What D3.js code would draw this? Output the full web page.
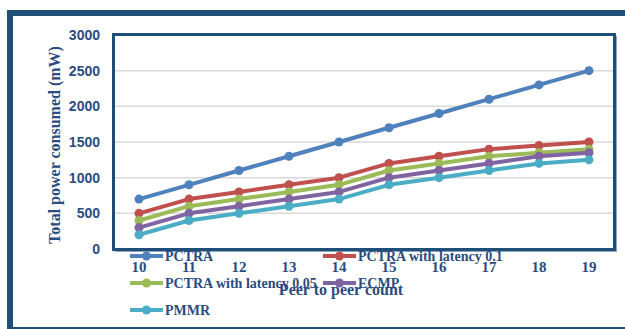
<!DOCTYPE html>
<html>
<head>
<meta charset="utf-8">
<script src="https://cdn.jsdelivr.net/npm/d3@7/dist/d3.min.js"></script>
<style>
  html, body { margin: 0; padding: 0; background: #ffffff; }
  svg { display: block; }
</style>
</head>
<body>
<svg id="chart" width="625" height="329"></svg>
<script>
// Peer counts on the category axis
const categories = ["10", "11", "12", "13", "14", "15", "16", "17", "18", "19"];
// Power consumed (mW) per protocol
const pctra      = [700, 900, 1100, 1300, 1500, 1700, 1900, 2100, 2300, 2500];
const pctra01    = [500, 700, 800, 900, 1000, 1200, 1300, 1400, 1450, 1500];
const pctra005   = [400, 600, 700, 800, 900, 1100, 1200, 1300, 1350, 1400];
const ecmp       = [300, 500, 600, 700, 800, 1000, 1100, 1200, 1300, 1350];
const pmmr       = [200, 400, 500, 600, 700, 900, 1000, 1100, 1200, 1250];
const seriesNames = ["PCTRA", "PCTRA with latency 0.1", "PCTRA with latency 0.05", "ECMP", "PMMR"];
const yTicks = [0, 500, 1000, 1500, 2000, 2500, 3000];

const colors = ["#4f81bd", "#c0504d", "#9bbb59", "#8064a2", "#4bacc6"];
const series = [pctra, pctra01, pctra005, ecmp, pmmr].map((values, i) => ({
  name: seriesNames[i], values, color: colors[i]
}));

const textColor = "#2b4c7e";
const frameColor = "#1f4e79";
const svg = d3.select("#chart");

// outer frame
svg.append("rect")
  .attr("x", 10).attr("y", 13).attr("width", 640).attr("height", 317)
  .attr("fill", "none").attr("stroke", frameColor).attr("stroke-width", 6);

const plot = { left: 114, right: 614, top: 35, bottom: 249 };

const x = d3.scaleBand().domain(categories).range([plot.left, plot.right]);
const y = d3.scaleLinear().domain([0, 3000]).range([plot.bottom, plot.top]);

// gridlines
svg.append("g")
  .selectAll("line")
  .data(yTicks.filter(t => t > 0 && t < 3000))
  .join("line")
  .attr("x1", plot.left).attr("x2", plot.right)
  .attr("y1", d => y(d)).attr("y2", d => y(d))
  .attr("stroke", "#d9d9d9").attr("stroke-width", 1.5);

// plot area border with a soft shadow on the right and bottom
svg.append("path")
  .attr("d", `M${plot.right + 2},${plot.top + 1} L${plot.right + 2},${plot.bottom + 2} L${plot.left + 1},${plot.bottom + 2}`)
  .attr("fill", "none").attr("stroke", "#8ea6c6").attr("stroke-width", 2);
svg.append("rect")
  .attr("x", plot.left - 0.5).attr("y", plot.top - 0.5)
  .attr("width", plot.right - plot.left + 1).attr("height", plot.bottom - plot.top + 1)
  .attr("fill", "none").attr("stroke", frameColor).attr("stroke-width", 3);

// y axis tick labels
const yAxis = d3.axisLeft(y).tickValues(yTicks).tickFormat(d3.format("d")).tickSize(0).tickPadding(14);
const gy = svg.append("g").attr("transform", `translate(${plot.left},0)`).call(yAxis);
gy.select(".domain").remove();
gy.selectAll("text")
  .attr("fill", textColor)
  .style("font-family", "'Liberation Sans', Arial, sans-serif")
  .style("font-weight", "bold").style("font-size", "14px");

// x axis tick labels
const xAxis = d3.axisBottom(x).tickSize(0).tickPadding(12);
const gx = svg.append("g").attr("transform", `translate(0,${plot.bottom})`).call(xAxis);
gx.select(".domain").remove();
gx.selectAll("text")
  .attr("fill", textColor)
  .style("font-family", "'Liberation Serif', 'Times New Roman', serif")
  .style("font-weight", "bold").style("font-size", "15px");

// axis titles
svg.append("text")
  .attr("transform", `translate(60,${(plot.top + plot.bottom) / 2 + 3}) rotate(-90)`)
  .attr("text-anchor", "middle")
  .attr("fill", textColor)
  .style("font-family", "'Liberation Serif', 'Times New Roman', serif")
  .style("font-weight", "bold").style("font-size", "16px")
  .text("Total power consumed (mW)");

svg.append("text")
  .attr("x", 341).attr("y", 295)
  .attr("text-anchor", "middle")
  .attr("fill", textColor)
  .style("font-family", "'Liberation Serif', 'Times New Roman', serif")
  .style("font-weight", "bold").style("font-size", "16px")
  .text("Peer to peer count");

// series lines and markers
const line = d3.line()
  .x((d, i) => x(categories[i]) + x.bandwidth() / 2)
  .y(d => y(d));

const gs = svg.append("g").selectAll("g").data(series).join("g");
gs.append("path")
  .attr("d", d => line(d.values))
  .attr("fill", "none").attr("stroke", d => d.color)
  .attr("stroke-width", 4).attr("stroke-linejoin", "round");
gs.selectAll("circle")
  .data(d => d.values.map((v, i) => ({ v, i, color: d.color })))
  .join("circle")
  .attr("cx", d => x(categories[d.i]) + x.bandwidth() / 2)
  .attr("cy", d => y(d.v))
  .attr("r", 4.5)
  .attr("fill", d => d.color);

// legend
const legendPos = [
  { x: 130, y: 256 }, { x: 323, y: 256 },
  { x: 130, y: 283 }, { x: 323, y: 283 },
  { x: 130, y: 310 }
];
const lg = svg.append("g").selectAll("g").data(series).join("g")
  .attr("transform", (d, i) => `translate(${legendPos[i].x},${legendPos[i].y})`);
lg.append("line")
  .attr("x1", 0).attr("x2", 33).attr("y1", 0).attr("y2", 0)
  .attr("stroke", d => d.color).attr("stroke-width", 4);
lg.append("circle").attr("cx", 16.5).attr("cy", 0).attr("r", 4.5).attr("fill", d => d.color);
lg.append("text")
  .attr("x", 35).attr("y", 5)
  .attr("fill", textColor)
  .style("font-family", "'Liberation Serif', 'Times New Roman', serif")
  .style("font-weight", "bold").style("font-size", "14px")
  .text(d => d.name);
</script>
</body>
</html>
